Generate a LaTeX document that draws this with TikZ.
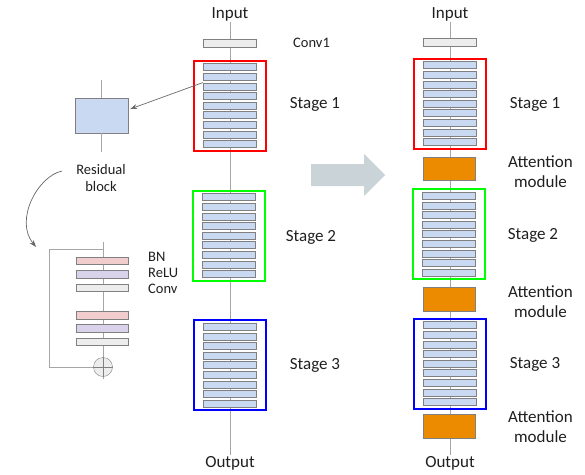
\documentclass[tikz,border=0pt]{standalone}
\usepackage{fontspec}
\setmainfont{Carlito}
\usetikzlibrary{arrows.meta}
\definecolor{barblue}{HTML}{C9D9F2}
\definecolor{bargray}{HTML}{808080}
\definecolor{wiregray}{HTML}{A6A6A6}
\definecolor{convgray}{HTML}{EDEDED}
\definecolor{bnpink}{HTML}{F2CDCD}
\definecolor{relupurple}{HTML}{D8D3EA}
\definecolor{attorange}{HTML}{ED8B00}
\definecolor{arrowgray}{HTML}{CAD3D8}
\definecolor{txt}{HTML}{1F1F1F}

\begin{document}
\begin{tikzpicture}[x=1pt,y=-1pt,
    lbl/.style={text=txt,inner sep=1pt,font=\fontsize{17}{20}\selectfont,align=center},
    small/.style={text=txt,inner sep=1pt,font=\fontsize{14.5}{17}\selectfont,align=center},
    bar/.style={draw=bargray,fill=barblue,minimum width=53pt,minimum height=7pt,inner sep=0pt},
    thin/.style={draw=bargray,minimum width=52pt,minimum height=7.5pt,inner sep=0pt},
    stagebox/.style={line width=2pt,minimum width=72pt,minimum height=90pt,inner sep=0pt},
    att/.style={draw=bargray,fill=attorange,minimum width=52pt,minimum height=23.5pt,inner sep=0pt},
    wire/.style={draw=wiregray,line width=0.9pt}]
  \useasboundingbox (0,0) rectangle (585,474);

  % left network
  \node[lbl] (inL) at (230,14) {Input};
  \node[lbl] (outL) at (230,463) {Output};
  \draw[wire] (inL) -- (outL);
  \node[thin,fill=convgray,minimum width=53pt] (convL) at (229.5,43) {};
  \node[small,anchor=west] (conv1) at (292,43) {Conv1};

  % right network
  \node[lbl] (inR) at (450,14) {Input};
  \node[lbl] (outR) at (450,463) {Output};
  \draw[wire] (inR) -- (outR);
  \node[thin,fill=convgray,minimum width=53pt] (convR) at (449.5,42) {};

  % stages
  \foreach \n/\cx/\cy/\col in {L1/229.5/105.5/red, L2/229/235.5/green, L3/229.5/365/blue,
                               R1/449.5/103.5/red, R2/448.5/234/green, R3/449.5/363.5/blue} {
    \node[stagebox,draw=\col] (\n) at (\cx,\cy) {};
    \foreach \i in {0,...,8}
      \node[bar] (\n-\i) at (\cx,{\cy-38.4+9.6*\i}) {};
  }
  \node[lbl] (st1L) at (315,104) {Stage 1};
  \node[lbl] (st2L) at (311,237) {Stage 2};
  \node[lbl] (st3L) at (315,365) {Stage 3};
  \node[lbl] (st1R) at (535,104) {Stage 1};
  \node[lbl] (st2R) at (533,235) {Stage 2};
  \node[lbl] (st3R) at (535,364) {Stage 3};

  % attention modules
  \node[att] (att1) at (449,168.5) {};
  \node[att] (att2) at (449,299) {};
  \node[att] (att3) at (449,426) {};
  \node[lbl] (att1t) at (540.5,171.5) {Attention\\module};
  \node[lbl] (att2t) at (540.5,302) {Attention\\module};
  \node[lbl] (att3t) at (540.5,427) {Attention\\module};

  % big arrow
  \fill[arrowgray] (311,164) -- (364,164) -- (364,154) -- (385,175) -- (364,196)
    -- (364,186) -- (311,186) -- cycle;

  % residual block
  \coordinate (rbtop) at (101.5,80);
  \coordinate (rbbot) at (101.5,152);
  \node[draw=bargray,fill=barblue,minimum width=53pt,minimum height=35pt,inner sep=0pt] (rb) at (101.5,115.5) {};
  \draw[wire] (rbtop) -- (rb.north);
  \draw[wire] (rb.south) -- (rbbot);
  \node[small] (rbtext) at (101,178.5) {Residual\\block};
  \draw[draw=gray!80!black,line width=0.7pt,-{Stealth[length=7pt,width=5pt]}]
    (L1-2.north west) -- ([xshift=2pt,yshift=6.5pt]rb.east);
  \coordinate (cstart) at (62,171);
  \coordinate (cend) at (36,247);
  \draw[draw=gray!80!black,line width=0.7pt,-{Stealth[length=7pt,width=5pt]}]
    (cstart) .. controls (38,176) and (14,220) .. (cend);

  % residual block detail
  \coordinate (dtop) at (103,242);
  \coordinate (dbot) at (103,379);
  \coordinate (skipa) at (103,249);
  \coordinate (skipb) at (49,249);
  \coordinate (skipc) at (49,367);
  \node[circle,draw=bargray,fill=convgray,minimum size=19pt,inner sep=0pt] (plus) at (103,367) {};
  \draw[wire] (dtop) -- (plus.north);
  \draw[wire] (plus.south) -- (dbot);
  \draw[wire] (skipa) -- (skipb) -- (skipc) -- (plus.west);
  \draw[draw=bargray,line width=0.6pt] (plus.north) -- (plus.south) (plus.west) -- (plus.east);
  \node[thin,fill=bnpink] (bn1) at (102,260.5) {};
  \node[thin,fill=relupurple] (relu1) at (102,274) {};
  \node[thin,fill=convgray] (cv1) at (102,287.5) {};
  \node[thin,fill=bnpink] (bn2) at (102,315) {};
  \node[thin,fill=relupurple] (relu2) at (102,328) {};
  \node[thin,fill=convgray] (cv2) at (102,341.5) {};
  \node[small,anchor=west] (bnt) at (147,257) {BN};
  \node[small,anchor=west] (relut) at (147,272.5) {ReLU};
  \node[small,anchor=west] (convt) at (147,288.5) {Conv};
\end{tikzpicture}
\end{document}
